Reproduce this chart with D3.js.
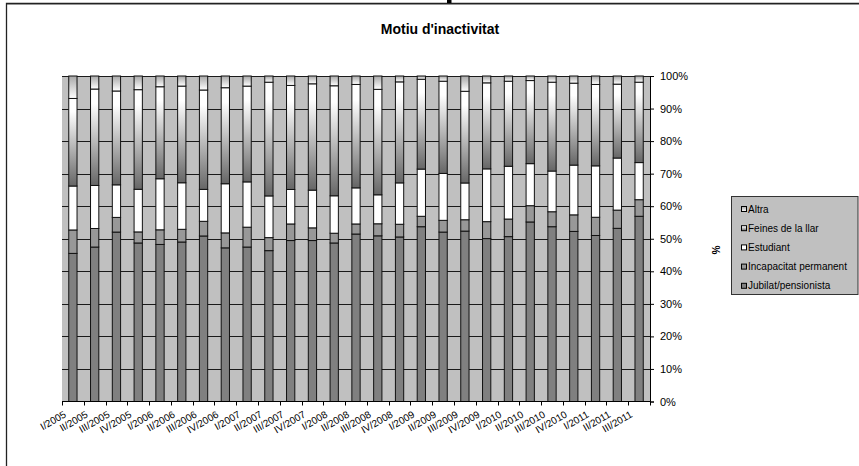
<!DOCTYPE html>
<html>
<head>
<meta charset="utf-8">
<script src="https://cdn.jsdelivr.net/npm/d3@7"></script>
<style>
  html, body { margin: 0; padding: 0; background: #fff; }
  svg { display: block; font-family: "Liberation Sans", Arial, sans-serif; }
</style>
</head>
<body>
<svg id="chart" width="859" height="466"></svg>
<script>
const categories = ["I/2005","II/2005","III/2005","IV/2005","I/2006","II/2006","III/2006","IV/2006",
  "I/2007","II/2007","III/2007","IV/2007","I/2008","II/2008","III/2008","IV/2008",
  "I/2009","II/2009","III/2009","IV/2009","I/2010","II/2010","III/2010","IV/2010",
  "I/2011","II/2011","III/2011"];

const jubilat     = [45.5,47.4,52.0,48.7,48.3,49.0,50.8,47.2,47.4,46.3,49.5,49.5,48.7,51.5,50.9,50.5,53.7,52.0,52.4,50.0,50.6,55.1,53.7,52.3,51.0,53.2,56.9];
const incapacitat = [7.2,5.7,4.5,3.4,4.5,3.9,4.5,4.6,6.1,4.0,5.1,3.9,3.0,3.1,3.7,3.9,3.2,3.6,3.5,5.2,5.4,5.0,4.6,5.1,5.6,5.6,5.1];
const estudiant   = [13.5,13.2,10.0,13.1,15.7,14.3,9.8,15.1,13.9,12.8,10.6,11.6,11.5,11.1,8.9,12.7,14.5,14.4,11.3,16.2,16.2,12.9,12.5,15.3,15.8,16.0,11.4];
const feines      = [26.9,29.6,28.8,30.6,28.3,29.7,30.5,29.5,29.4,34.9,32.0,32.7,33.8,31.8,32.4,31.0,27.6,28.3,28.2,26.4,26.1,25.5,27.3,25.2,25.0,22.7,24.7];
const altra       = [6.9,4.0,4.6,4.2,3.3,3.1,4.3,3.6,3.1,1.9,2.9,2.4,3.0,2.6,4.1,1.8,1.0,1.6,4.7,2.1,1.6,1.4,1.9,2.2,2.6,2.5,1.9];

const seriesNames = ["Jubilat/pensionista","Incapacitat permanent","Estudiant","Feines de la llar","Altra"];
const yTicks = [0,0.1,0.2,0.3,0.4,0.5,0.6,0.7,0.8,0.9,1.0];
const chartTitle = "Motiu d'inactivitat";
const axisTitle = "%";

(function () {
const seriesValues = [jubilat, incapacitat, estudiant, feines, altra];
const rows = categories.map((c, i) => {
  const r = { cat: c };
  seriesNames.forEach((s, k) => r[s] = seriesValues[k][i]);
  return r;
});

const svg = d3.select("#chart");
const defs = svg.append("defs");

const gFeines = defs.append("linearGradient").attr("id","gFeines").attr("x1",0).attr("y1",0).attr("x2",0).attr("y2",1);
gFeines.append("stop").attr("offset","0%").attr("stop-color","#ffffff");
gFeines.append("stop").attr("offset","15%").attr("stop-color","#ffffff");
gFeines.append("stop").attr("offset","100%").attr("stop-color","#666666");
const gAltra = defs.append("linearGradient").attr("id","gAltra").attr("x1",0).attr("y1",0).attr("x2",0).attr("y2",1);
gAltra.append("stop").attr("offset","0%").attr("stop-color","#a8a8a8");
gAltra.append("stop").attr("offset","100%").attr("stop-color","#ffffff");

const fills = {
  "Jubilat/pensionista": "#808080",
  "Incapacitat permanent": "#989898",
  "Estudiant": "#ffffff",
  "Feines de la llar": "url(#gFeines)",
  "Altra": "url(#gAltra)"
};

const pLeft = 62, pRight = 650, pTop = 76, pBottom = 401.5;

const x = d3.scaleBand().domain(categories).range([pLeft, pRight]).paddingInner(0.62).paddingOuter(0.31);
const y = d3.scaleLinear().domain([0, 1]).range([pBottom, pTop]);

// outer frame
svg.append("line").attr("x1",7).attr("x2",859).attr("y1",4.5).attr("y2",4.5).attr("stroke","#bbbbbb");
svg.append("path").attr("d","M6.5,470 V3.5 H862").attr("fill","none").attr("stroke","#222").attr("stroke-width",1.3);
// clipped fragment of text above frame
svg.append("rect").attr("x",447).attr("y",0).attr("width",4.5).attr("height",3).attr("fill","#000");

// title
svg.append("text").attr("x",440).attr("y",33.5).attr("text-anchor","middle")
  .attr("font-weight","bold").attr("font-size",14).text(chartTitle);

// plot background
svg.append("rect").attr("x",pLeft).attr("y",pTop).attr("width",pRight-pLeft).attr("height",pBottom-pTop).attr("fill","#c0c0c0");

// gridlines
svg.append("g").selectAll("line").data(yTicks.slice(1)).join("line")
  .attr("x1",pLeft).attr("x2",pRight)
  .attr("y1",d => Math.round(y(d))+0.5).attr("y2",d => Math.round(y(d))+0.5)
  .attr("stroke","#1a1a1a").attr("stroke-width",1);

// bars
const stack = d3.stack().keys(seriesNames).offset(d3.stackOffsetExpand);
const stacked = stack(rows);
svg.append("g").selectAll("g").data(stacked).join("g")
  .attr("fill", d => fills[d.key])
  .selectAll("rect").data(d => d).join("rect")
  .attr("x", d => x(d.data.cat))
  .attr("width", x.bandwidth())
  .attr("y", d => y(d[1]))
  .attr("height", d => y(d[0]) - y(d[1]))
  .attr("stroke","#111").attr("stroke-width",1);

// x axis line and ticks (between categories)
const boundaries = d3.range(categories.length + 1).map(i => x.range()[0] + i * x.step());
svg.append("line").attr("x1",pLeft).attr("x2",pRight).attr("y1",pBottom).attr("y2",pBottom).attr("stroke","#000");
svg.append("g").selectAll("line").data(boundaries).join("line")
  .attr("x1",d => Math.round(d)+0.5).attr("x2",d => Math.round(d)+0.5)
  .attr("y1",pBottom).attr("y2",pBottom+4).attr("stroke","#000");

// x labels
svg.append("g").selectAll("text").data(categories).join("text")
  .attr("transform", d => `translate(${x(d) + x.bandwidth()/2 - 6},${pBottom + 15}) rotate(-30)`)
  .attr("text-anchor","end").attr("font-size",10).attr("fill","#000").text(d => d);

// right y axis
const yAxis = d3.axisRight(y).tickValues(yTicks).tickFormat(d3.format(".0%")).tickSize(4).tickPadding(6);
const ga = svg.append("g").attr("transform",`translate(${pRight},0)`).call(yAxis);
ga.select(".domain").attr("stroke","#000");
ga.selectAll(".tick line").attr("stroke","#000");
ga.selectAll("text").attr("font-size",11).attr("fill","#000").attr("font-family","'Liberation Sans', Arial, sans-serif");

// axis title
svg.append("text").attr("transform","translate(712,250) rotate(90)").attr("text-anchor","middle")
  .attr("font-weight","bold").attr("font-size",10).text(axisTitle);

// legend
const lg = svg.append("g");
lg.append("rect").attr("x",731.5).attr("y",196.5).attr("width",126.5).attr("height",98)
  .attr("fill","#c0c0c0").attr("stroke","#333");
const legendOrder = seriesNames.slice().reverse();
const item = lg.selectAll("g.item").data(legendOrder).join("g").attr("class","item")
  .attr("transform",(d,i) => `translate(0,${209 + i*19.2})`);
item.append("rect").attr("x",741.5).attr("y",-2.5).attr("width",5).attr("height",5)
  .attr("fill", d => fills[d]).attr("stroke","#000");
item.append("text").attr("x",748).attr("y",3.6).attr("font-size",10).attr("fill","#000").text(d => d);
})();
</script>
</body>
</html>
